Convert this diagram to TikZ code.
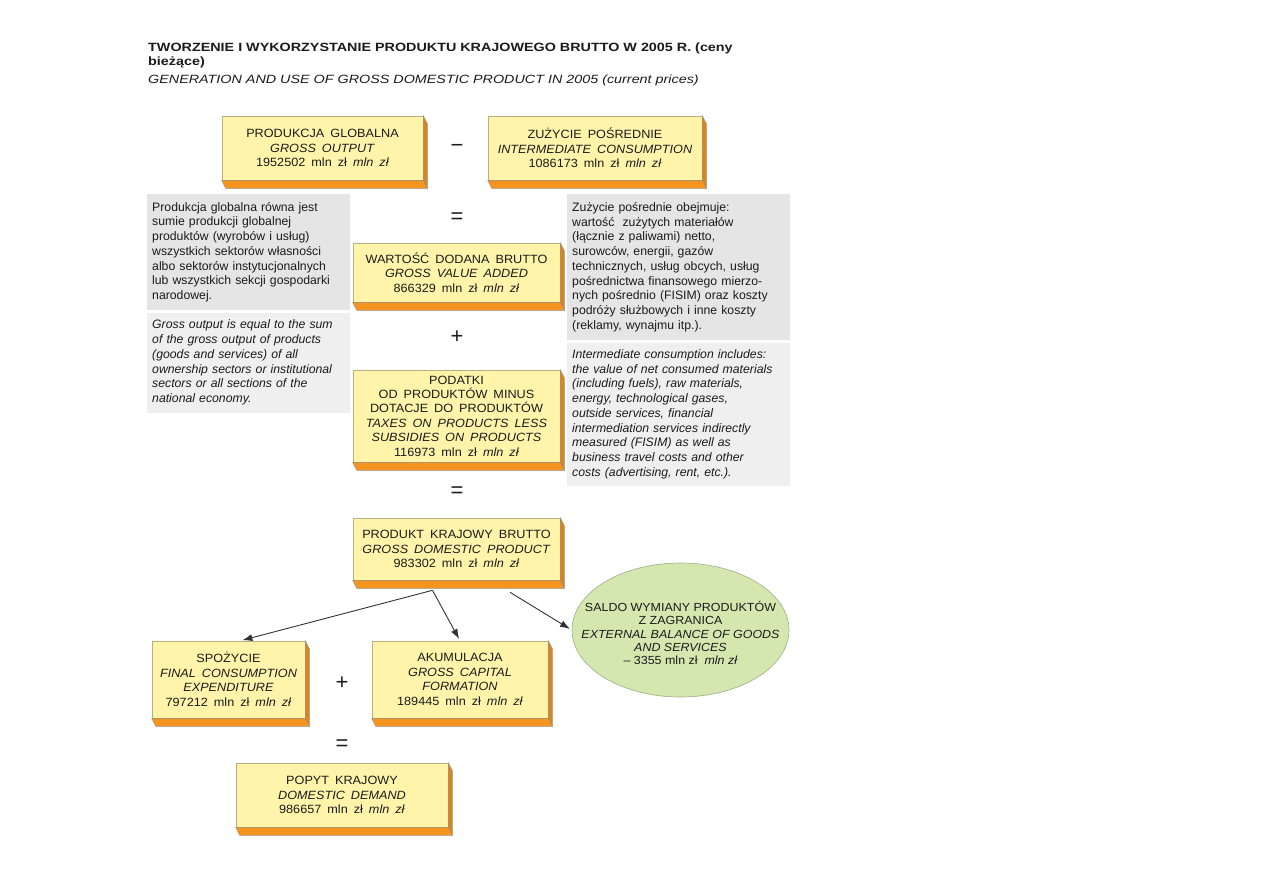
\documentclass[tikz,border=0pt]{standalone}
\usepackage{fontspec}
\setmainfont{Liberation Sans}
\newfontfamily\boxfont[FakeStretch=1.06]{Liberation Sans}
\newfontfamily\titlefont[FakeStretch=1.2]{Liberation Sans}
\newcommand{\boxsel}{\boxfont\fontsize{12}{14.5}\selectfont\spaceskip=6bp plus 2bp minus 1bp\relax}
\usetikzlibrary{arrows.meta,positioning,shapes.geometric,calc}
\definecolor{face}{HTML}{FFF4AA}
\definecolor{faceedge}{HTML}{B9AF7C}
\definecolor{slab}{HTML}{F5951F}
\definecolor{slabdark}{HTML}{DC841C}
\definecolor{slabedge}{HTML}{9A8F80}
\definecolor{greyone}{HTML}{E5E5E5}
\definecolor{greytwo}{HTML}{EFEFEF}
\definecolor{oval}{HTML}{D4E7AF}
\definecolor{ovaledge}{HTML}{9BAE86}
\definecolor{ink}{HTML}{1B1B1B}

% orange edge under and right of a box face
\newcommand{\boxslab}[1]{%
  \filldraw[draw=slabedge, fill=slabdark, line width=0.4pt] (#1.north east) -- ++(4,8)
    -- ([shift={(4,8)}]#1.south east) -- (#1.south east) -- cycle;
  \filldraw[draw=slabedge, fill=slab, line width=0.4pt] (#1.south west) -- ++(4,8)
    -- ([shift={(4,8)}]#1.south east) -- (#1.south east) -- cycle;}

\begin{document}
\begin{tikzpicture}[x=1bp, y=-1bp, >={Latex[length=10pt,width=7pt]},
  box/.style={draw=faceedge, fill=face, line width=0.6pt, align=center, inner sep=0pt, text=ink, font=\boxsel},
  note/.style={anchor=north west, align=left, inner xsep=5bp, inner ysep=4bp, text=ink,
    font=\fontsize{12.3}{14.8}\selectfont},
  op/.style={font=\fontsize{22}{22}\selectfont, text=ink},
  flow/.style={->, line width=0.9pt, draw=ink!90, shorten >=2bp}]
\useasboundingbox (0,0) rectangle (1263,893);

% ---------------- title
\node[anchor=north west, align=left, inner sep=0pt, text=ink, font=\titlefont\fontsize{12}{14}\selectfont] (title) at (148,43)
  {\textbf{TWORZENIE I WYKORZYSTANIE PRODUKTU KRAJOWEGO BRUTTO W 2005 R. (ceny}\\
   \textbf{bieżące)}\\[4bp]
   \textit{GENERATION AND USE OF GROSS DOMESTIC PRODUCT IN 2005 (current prices)}};

% ---------------- generation: top rows
\node[box, minimum width=201bp, minimum height=64bp] (pg) at (322.5,148)
  {PRODUKCJA GLOBALNA\\\textit{GROSS OUTPUT}\\1952502 mln zł \textit{mln zł}};
\node[box, minimum width=214bp, minimum height=64bp] (zp) at (595,148)
  {ZUŻYCIE POŚREDNIE\\\textit{INTERMEDIATE CONSUMPTION}\\1086173 mln zł \textit{mln zł}};
\node[op] (minus) at (457,148) {−};

\node[note, fill=greyone, text width=193bp, minimum height=116bp] (pgpl) at (147,194)
  {Produkcja globalna równa jest\\ sumie produkcji globalnej\\ produktów (wyrobów i usług)\\
   wszystkich sektorów własności\\ albo sektorów instytucjonalnych\\ lub wszystkich sekcji gospodarki\\ narodowej.};
\node[note, fill=greytwo, text width=193bp, minimum height=100bp, below=2bp of pgpl.south west, anchor=north west] (pgen)
  {\itshape Gross output is equal to the sum\\ of the gross output of products\\ (goods and services) of all\\
   ownership sectors or institutional\\ sectors or all sections of the\\ national economy.};

\node[note, fill=greyone, text width=213bp, minimum height=146bp] (zppl) at (567,194)
  {Zużycie pośrednie obejmuje:\\ wartość\ \ zużytych materiałów\\ (łącznie z paliwami) netto,\\ surowców, energii, gazów\\
   technicznych, usług obcych, usług\\ pośrednictwa finansowego mierzo-\\ nych pośrednio (FISIM) oraz koszty\\
   podróży służbowych i inne koszty\\ (reklamy, wynajmu itp.).};
\node[note, fill=greytwo, text width=213bp, minimum height=143bp, below=2bp of zppl.south west, anchor=north west] (zpen)
  {\itshape Intermediate consumption includes:\\ the value of net consumed materials\\ (including fuels), raw materials,\\
   energy, technological gases,\\ outside services, financial\\ intermediation services indirectly\\
   measured (FISIM) as well as\\ business travel costs and other\\ costs (advertising, rent, etc.).};

% ---------------- middle column
\node[op] (eqone) at (457,218) {=};
\node[box, minimum width=207bp, minimum height=59bp] (wdb) at (456.5,272.5)
  {WARTOŚĆ DODANA BRUTTO\\\textit{GROSS VALUE ADDED}\\866329 mln zł \textit{mln zł}};
\node[op] (plusone) at (457,337) {+};
\node[box, minimum width=207bp, minimum height=92bp] (pod) at (456.5,416)
  {PODATKI\\OD PRODUKTÓW MINUS\\DOTACJE DO PRODUKTÓW\\\textit{TAXES ON PRODUCTS LESS}\\
   \textit{SUBSIDIES ON PRODUCTS}\\116973 mln zł \textit{mln zł}};
\node[op] (eqtwo) at (457,492) {=};
\node[box, minimum width=207bp, minimum height=62bp] (pkb) at (456.5,549)
  {PRODUKT KRAJOWY BRUTTO\\\textit{GROSS DOMESTIC PRODUCT}\\983302 mln zł \textit{mln zł}};

% ---------------- use of gdp
\node[ellipse, draw=ovaledge, fill=oval, line width=0.6pt, minimum width=217bp, minimum height=134bp, inner sep=0pt] (sal) at (680.5,630) {};
\node[align=center, inner sep=0pt, text=ink, font=\boxfont\fontsize{11.8}{13.5}\selectfont] (saltext) at ([yshift=-3bp]sal.center)
  {SALDO WYMIANY PRODUKTÓW\\Z ZAGRANICA\\\textit{EXTERNAL BALANCE OF GOODS}\\\textit{AND SERVICES}\\– 3355 mln zł\ \ \textit{mln zł}};
\node[box, minimum width=153bp, minimum height=77bp] (spo) at (228.5,679.5)
  {SPOŻYCIE\\\textit{FINAL CONSUMPTION}\\\textit{EXPENDITURE}\\797212 mln zł \textit{mln zł}};
\node[op] (plustwo) at (342,683) {+};
\node[box, minimum width=176bp, minimum height=77bp] (aku) at (460,679.5)
  {AKUMULACJA\\\textit{GROSS CAPITAL}\\\textit{FORMATION}\\189445 mln zł \textit{mln zł}};
\node[op] (eqthree) at (342,745) {=};
\node[box, minimum width=212bp, minimum height=64bp] (pop) at (342,795)
  {POPYT KRAJOWY\\\textit{DOMESTIC DEMAND}\\986657 mln zł \textit{mln zł}};

\foreach \b in {pg,zp,wdb,pod,pkb,spo,aku,pop} {\boxslab{\b}}

\coordinate (fork) at ([xshift=-24bp,yshift=-10bp]pkb.south);
\coordinate (tap) at ([xshift=53.5bp,yshift=-12bp]pkb.south);
\draw[flow] (fork) -- ([xshift=12bp]spo.north);
\draw[flow] (fork) -- (aku.north);
\draw[flow] (tap) -- (sal.west);
\end{tikzpicture}
\end{document}
